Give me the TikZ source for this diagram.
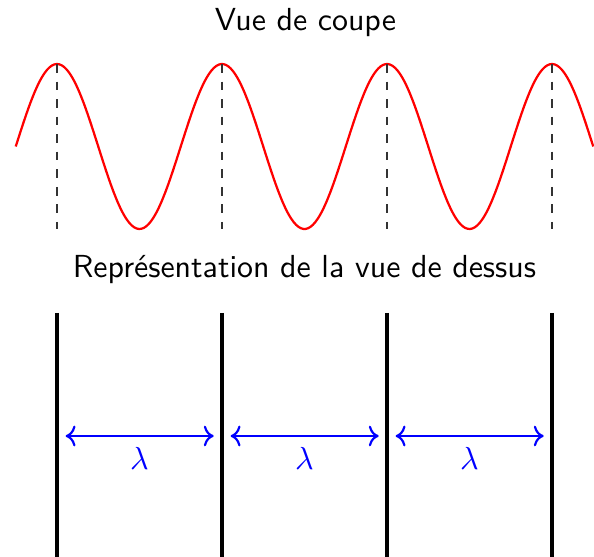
\documentclass[tikz,border=0pt]{standalone}
\usetikzlibrary{arrows.meta}
\begin{document}
\begin{tikzpicture}[x=0.3135pt,y=-0.3135pt,
  wave/.style={red,line width=0.7pt},
  guide/.style={black!80,line width=0.4pt,dash pattern=on 2.75pt off 2.75pt},
  wall/.style={black,line width=0.95pt},
  span/.style={blue,line width=0.68pt,<->,shorten <=2.7pt,shorten >=2.6pt},
  title/.style={font=\sffamily,anchor=base,inner sep=0pt},
  lam/.style={blue,anchor=base,inner sep=0pt}]
\useasboundingbox (0,0) rectangle (594,557);
% titles
\node[title] (t1) at (305.5,31) {Vue de coupe};
\node[title] (t2) at (304.5,278) {Représentation de la vue de dessus};
% sine
\draw[wave] plot[domain=15.75:593.25,samples=240,smooth] (\x,{146.5-82.5*sin(((\x-15.75)/165)*360)});
% dashed guides and walls
\foreach \i/\x in {1/57,2/222,3/387,4/552}{
  \coordinate (p\i) at (\x,64);
  \coordinate (d\i) at (\x,229);
  \coordinate (w\i) at (\x,313);
  \coordinate (e\i) at (\x,557);
  \coordinate (m\i) at (\x,436);
  \draw[guide] (p\i) -- (d\i);
  \draw[wall] (w\i) -- (e\i);
}
% arrows and labels
\draw[span] (m1) -- (m2);
\draw[span] (m2) -- (m3);
\draw[span] (m3) -- (m4);
\node[lam] (l1) at (139.5,470) {$\lambda$};
\node[lam] (l2) at (304.5,470) {$\lambda$};
\node[lam] (l3) at (469.5,470) {$\lambda$};
\end{tikzpicture}
\end{document}
